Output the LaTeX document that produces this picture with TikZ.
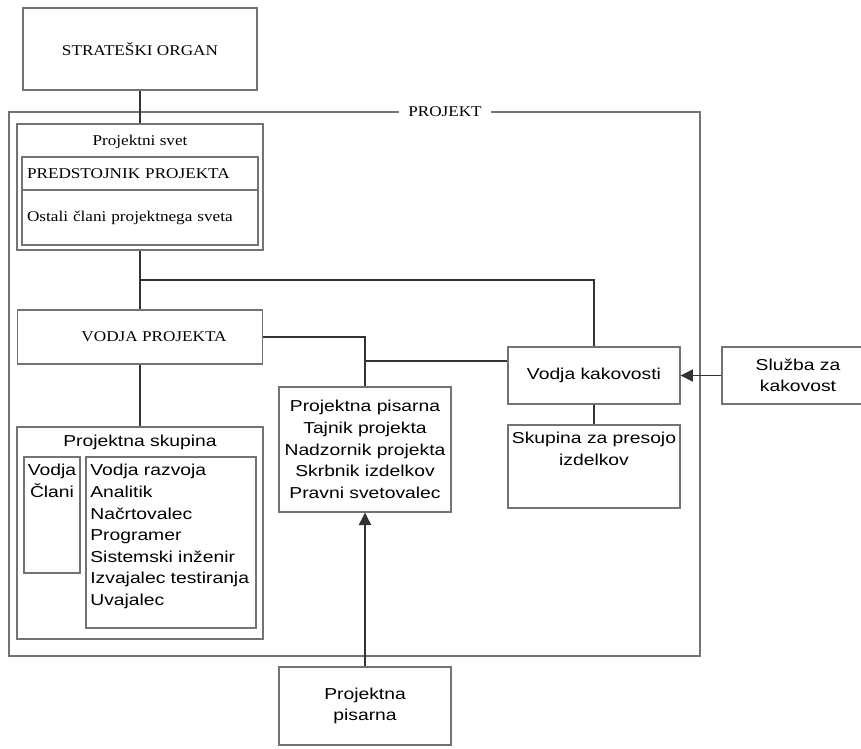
\documentclass[tikz,border=0pt]{standalone}
\usepackage{fontspec}
\setmainfont{Liberation Serif}[FakeStretch=1.15]
\setsansfont{Liberation Sans}[FakeStretch=1.22]
\usepackage{tikz}
\usetikzlibrary{positioning,arrows.meta}

\begin{document}
\begin{tikzpicture}[x=0.02cm, y=-0.02cm, >={Triangle[length=7pt,width=7pt]},
    box/.style={draw=black!55, line width=0.8pt, inner sep=0pt},
    serif/.style={font=\fontsize{8.5}{10}\selectfont},
    sans/.style={font=\sffamily\fontsize{9}{12.3}\selectfont},
    link/.style={draw=black!80, line width=0.7pt}]
  \path[use as bounding box, fill=white] (0,0) rectangle (861,748);

  % okvir projekta
  \draw[box] (9,112) rectangle (700,656);
  \node[serif, fill=white, inner xsep=5pt] (projekt) at (445,112) {PROJEKT};

  \node[box, serif, minimum width=4.68cm, minimum height=1.64cm] (organ) at (140,49) {STRATEŠKI ORGAN};

  % projektni svet
  \node[box, minimum width=4.92cm, minimum height=2.52cm] (svet) at (140,187) {};
  \node[serif] (svettxt) at (140,142) {Projektni svet};
  \node[box, serif, minimum width=4.72cm, minimum height=0.66cm, text width=4.52cm, align=left] (predstojnik) at (140,173.5) {PREDSTOJNIK PROJEKTA};
  \node[box, serif, minimum width=4.72cm, minimum height=1.1cm, text width=4.52cm, align=left] (ostali) at (140,217.5) {Ostali člani projektnega sveta};

  \node[box, serif, minimum width=4.9cm, minimum height=1.08cm] (vodja) at (140,337) {\hspace*{0.56cm}VODJA PROJEKTA};

  % projektna skupina
  \node[box, minimum width=4.92cm, minimum height=4.24cm] (skupina) at (140,533) {};
  \node[sans] (skupinatxt) at (140,442) {Projektna skupina};
  \node[box, minimum width=1.12cm, minimum height=2.32cm] (clani) at (52,515) {};
  \node[sans, align=center, anchor=north, inner sep=0pt] (clanitxt) at (52,464) {Vodja\\Člani};
  \node[box, minimum width=3.4cm, minimum height=3.42cm] (vloge) at (171,542.5) {};
  \node[sans, align=left, anchor=north west, inner sep=0pt] (vlogetxt) at (90,464) {Vodja razvoja\\Analitik\\Načrtovalec\\Programer\\Sistemski inženir\\Izvajalec testiranja\\Uvajalec};

  \node[box, sans, align=center, minimum width=3.44cm, minimum height=2.5cm] (pisarna) at (365,449.5) {Projektna pisarna\\Tajnik projekta\\Nadzornik projekta\\Skrbnik izdelkov\\Pravni svetovalec};

  % kakovost
  \node[box, sans, minimum width=3.44cm, minimum height=1.14cm] (kakovost) at (594,375.5) {Vodja kakovosti};
  \node[box, minimum width=3.44cm, minimum height=1.66cm] (presoja) at (594,466.5) {};
  \node[sans, align=center, anchor=north, inner sep=0pt] (presojatxt) at (594,432) {Skupina za presojo\\izdelkov};
  \node[box, sans, align=center, minimum width=3.04cm, minimum height=1.14cm] (sluzba) at (798,375.5) {Služba za\\kakovost};

  \node[box, sans, align=center, minimum width=3.44cm, minimum height=1.56cm] (pisarna2) at (365,706) {Projektna\\pisarna};

  % povezave
  \coordinate (razcep) at (140,280);
  \coordinate (stik) at (365,361);
  \draw[link] (organ) -- (svet);
  \draw[link] (svet) -- (vodja);
  \draw[link] (razcep) -| (kakovost);
  \draw[link] (vodja) -| (pisarna);
  \draw[link] (stik) -- (stik -| kakovost.west);
  \draw[link] (vodja) -- (skupina);
  \draw[link] (kakovost) -- (presoja);
  \draw[link, ->] (pisarna2) -- (pisarna);
  \draw[link, ->] (sluzba) -- (kakovost);
\end{tikzpicture}
\end{document}
